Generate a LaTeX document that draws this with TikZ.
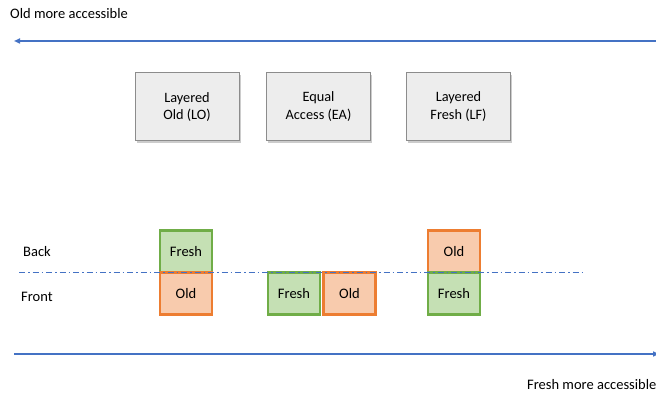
\documentclass[tikz,border=0pt]{standalone}
\usepackage{fontspec}
\setmainfont{Carlito}
\usetikzlibrary{arrows.meta,shadows}
\definecolor{arrowblue}{HTML}{4472C4}
\definecolor{grayfill}{HTML}{EDEDED}
\definecolor{grayline}{HTML}{8C8C8C}
\definecolor{greenfill}{HTML}{C5E0B4}
\definecolor{greenline}{HTML}{70AD47}
\definecolor{orangefill}{HTML}{F8CBAD}
\definecolor{orangeline}{HTML}{ED7D31}
\begin{document}
\begin{tikzpicture}[x=1pt,y=-1pt,
  lbl/.style={font=\fontsize{14.5}{17}\selectfont, inner sep=0pt, anchor=west},
  method/.style={draw=grayline, fill=grayfill, line width=1pt, minimum width=104pt, minimum height=68pt, align=center, font=\fontsize{14.3}{17.5}\selectfont, inner sep=0pt,
    drop shadow={shadow xshift=1.5pt, shadow yshift=-2.5pt, opacity=0.4}},
  freshbox/.style={draw=greenline, fill=greenfill, line width=2.2pt, minimum width=52pt, minimum height=42pt, font=\fontsize{14.5}{17}\selectfont, inner sep=0pt,
    drop shadow={shadow xshift=1pt, shadow yshift=-2pt, opacity=0.35}},
  oldbox/.style={draw=orangeline, fill=orangefill, line width=2.2pt, minimum width=52pt, minimum height=42pt, font=\fontsize{14.5}{17}\selectfont, inner sep=0pt,
    drop shadow={shadow xshift=1pt, shadow yshift=-2pt, opacity=0.35}},
  axis/.style={draw=arrowblue, line width=1.6pt, -{Triangle[length=6pt,width=5pt]}}
]
\useasboundingbox (0,0) rectangle (656,395);
\clip (0,0) rectangle (656,395);
% top arrow
\coordinate (tr) at (662,41);
\coordinate (tl) at (14,41);
\draw[axis] (tr) -- (tl);
\node[lbl] (oldacc) at (10,14) {Old more accessible};
% methods
\node[method] (lo) at (187,107) {Layered\\Old (LO)};
\node[method] (ea) at (318.5,106.5) {Equal\\Access (EA)};
\node[method] (lf) at (458.5,106.5) {Layered\\Fresh (LF)};
% labels
\node[lbl] (back) at (23,252) {Back};
\node[lbl] (front) at (21,297) {Front};
% boxes
\node[freshbox] (lofresh) at (186,251.5) {Fresh};
\node[oldbox] (loold) at (186,293.5) {Old};
\node[freshbox] (eafresh) at (294,293.5) {Fresh};
\node[oldbox] (eaold) at (349.5,293.5) {Old};
\node[oldbox] (lfold) at (454,251.5) {Old};
\node[freshbox] (lffresh) at (454,293.5) {Fresh};
% dash-dot line
\coordinate (dl) at (19,272.5);
\coordinate (dr) at (584,272.5);
\draw[arrowblue, line width=1pt, dash pattern=on 6pt off 3pt on 1.5pt off 3pt] (dl) -- (dr);
% bottom arrow
\coordinate (bl) at (14,354);
\coordinate (br) at (659,354);
\draw[axis] (bl) -- (br);
\node[lbl] (freshacc) at (527,385) {Fresh more accessible};
\end{tikzpicture}
\end{document}
